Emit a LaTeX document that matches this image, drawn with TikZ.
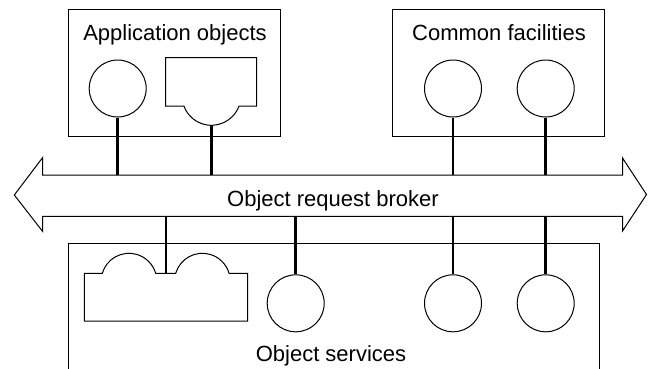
\documentclass[tikz,border=0pt]{standalone}
\usepackage{fontspec}
\setmainfont{Liberation Sans}
\begin{document}
\begin{tikzpicture}[x=1pt,y=-1pt,
  thinline/.style={draw=black,line width=1pt},
  frame/.style={thinline},
  obj/.style={circle,thinline,fill=white,minimum size=57pt,inner sep=0pt},
  stem/.style={draw=black,line width=2.6pt},
  lbl/.style={font=\fontsize{22}{26}\selectfont,anchor=base,inner sep=0pt}]
\useasboundingbox (0,0) rectangle (648,368);
% boxes
\draw[frame] (68,9.5) rectangle (280,136);
\draw[frame] (392.3,9.5) rectangle (604,136);
\draw[frame] (68.3,380) -- (68.3,243.3) -- (599.3,243.3) -- (599.3,380);
\node[lbl] (tapp) at (175,40) {Application objects};
\node[lbl] (tcom) at (499,40) {Common facilities};
\node[lbl] (tsvc) at (331,361.7) {Object services};
% broker arrow
\draw[thinline,line join=miter] (14.3,195) -- (42.7,157.5) -- (42.7,175) -- (622.5,175) -- (622.5,158)
  -- (646.5,194.5) -- (622.5,231) -- (622.5,216.3) -- (42.7,216.3) -- (42.7,231.5) -- cycle;
\node[lbl] (torb) at (333,206) {Object request broker};
% application objects
\node[obj] (ao1) at (117.7,88.5) {};
\draw[thinline] (165.7,57.7) -- (256.7,57.7) -- (256.7,106) -- (239,106)
  arc[start angle=20, end angle=160, radius=29.3] -- (165.7,106) -- cycle;
\coordinate (ao2) at (211.7,125.3);
% common facilities
\node[obj] (cf1) at (453,88.5) {};
\node[obj] (cf2) at (545.7,88.5) {};
% object services
\draw[thinline] (84.3,273.3) -- (102.3,273.3) arc[start angle=-163.7, end angle=-16.3, radius=27.8]
  -- (175.7,273.3) arc[start angle=-163.7, end angle=-16.3, radius=27.8]
  -- (247.7,273.3) -- (247.7,321) -- (84.3,321) -- cycle;
\coordinate (os1) at (166,273.3);
\node[obj] (os2) at (295.7,303.3) {};
\node[obj] (os3) at (453,303.3) {};
\node[obj] (os4) at (545.7,303.3) {};
% bus coordinates
\coordinate (bt1) at (117.7,175);
\coordinate (bt2) at (211.7,175);
\coordinate (bt3) at (453,175);
\coordinate (bt4) at (545.7,175);
\coordinate (bb1) at (166,216.3);
\coordinate (bb2) at (295.7,216.3);
\coordinate (bb3) at (453,216.3);
\coordinate (bb4) at (545.7,216.3);
% stems
\draw[stem] (ao1.south) -- (bt1);
\draw[stem] (ao2) -- (bt2);
\draw[stem] (cf1.south) -- (bt3);
\draw[stem] (cf2.south) -- (bt4);
\draw[stem] (bb1) -- (os1);
\draw[stem] (bb2) -- (os2.north);
\draw[stem] (bb3) -- (os3.north);
\draw[stem] (bb4) -- (os4.north);
\end{tikzpicture}
\end{document}
